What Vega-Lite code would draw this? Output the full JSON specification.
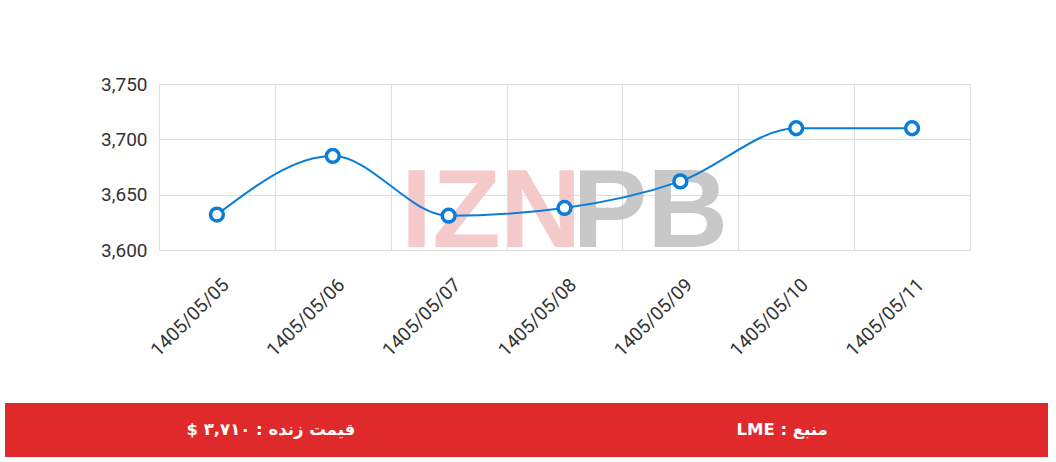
{
  "$schema": "https://vega.github.io/schema/vega-lite/v6.json",
  "background": "white",
  "padding": {"left": 5, "top": 75, "right": 8, "bottom": 5},
  "spacing": 43,
  "resolve": {"scale": {"x": "independent", "y": "independent"}},
  "config": {
    "view": {"stroke": null},
    "axis": {"labelFont": "Roboto", "labelFontSize": 19, "labelColor": "#333333", "gridColor": "#dddddd", "gridWidth": 1, "domain": false, "ticks": false}
  },
  "vconcat": [
    {
      "spacing": 0,
      "resolve": {"scale": {"x": "independent", "y": "independent"}},
      "hconcat": [
        {
          "width": 95,
          "height": 166,
          "data": {"values": []},
          "mark": {"type": "point", "opacity": 0},
          "encoding": {}
        },
        {
          "width": 811,
          "height": 166,
          "data": {"values": [
            {"date": "1405/05/05", "price": 3632},
            {"date": "1405/05/06", "price": 3685},
            {"date": "1405/05/07", "price": 3631},
            {"date": "1405/05/08", "price": 3638},
            {"date": "1405/05/09", "price": 3662},
            {"date": "1405/05/10", "price": 3710},
            {"date": "1405/05/11", "price": 3710}
          ]},
          "layer": [
            {
              "data": {"values": [{"t": "IZN"}]},
              "mark": {"type": "text", "font": "Liberation Sans", "fontWeight": "bold", "fontSize": 112, "fill": "#f4caca", "align": "right", "baseline": "alphabetic", "dx": 17},
              "encoding": {
                "x": {"datum": "1405/05/08", "type": "ordinal"},
                "y": {"datum": 3603, "type": "quantitative"},
                "text": {"field": "t", "type": "nominal"}
              }
            },
            {
              "data": {"values": [{"t": "PB"}]},
              "mark": {"type": "text", "font": "Liberation Sans", "fontWeight": "bold", "fontSize": 112, "fill": "#c8c8c8", "align": "left", "baseline": "alphabetic", "dx": 8},
              "encoding": {
                "x": {"datum": "1405/05/08", "type": "ordinal"},
                "y": {"datum": 3603, "type": "quantitative"},
                "text": {"field": "t", "type": "nominal"}
              }
            },
            {
              "mark": {"type": "line", "interpolate": "monotone", "color": "#0a7dd8", "strokeWidth": 2},
              "encoding": {
                "x": {"field": "date", "type": "ordinal", "scale": {"type": "band", "paddingInner": 0, "paddingOuter": 0},
                      "axis": {"title": null, "labelAngle": -45, "labelAlign": "right", "labelBaseline": "top", "labelPadding": 25, "labelOffset": 2, "tickBand": "extent", "grid": true}},
                "y": {"field": "price", "type": "quantitative", "scale": {"domain": [3600, 3750], "nice": false, "zero": false},
                      "axis": {"title": null, "values": [3600, 3650, 3700, 3750], "format": ",d", "labelPadding": 12, "grid": true}}
              }
            },
            {
              "mark": {"type": "point", "filled": true, "fill": "white", "stroke": "#0a7dd8", "strokeWidth": 3.5, "size": 165, "opacity": 1},
              "encoding": {
                "x": {"field": "date", "type": "ordinal", "axis": {"title": null, "labelAngle": -45, "labelAlign": "right", "labelBaseline": "top", "labelPadding": 25, "labelOffset": 2, "tickBand": "extent", "grid": true}},
                "y": {"field": "price", "type": "quantitative", "axis": {"title": null, "values": [3600, 3650, 3700, 3750], "format": ",d", "labelPadding": 12, "grid": true}}
              }
            }
          ]
        }
      ]
    },
    {
      "width": 1043,
      "height": 54,
      "view": {"fill": "#e0292b", "stroke": null},
      "data": {"values": [
        {"side": "a", "label": "‫قیمت زنده : ۳,۷۱۰ $‬"},
        {"side": "b", "label": "‫منبع : LME‬"}
      ]},
      "mark": {"type": "text", "color": "white", "fontWeight": "bold", "fontSize": 16.5, "font": "DejaVu Sans", "baseline": "middle"},
      "encoding": {
        "x": {"field": "side", "type": "nominal", "scale": {"type": "point", "padding": 0.52}, "axis": null},
        "text": {"field": "label"}
      }
    }
  ]
}
